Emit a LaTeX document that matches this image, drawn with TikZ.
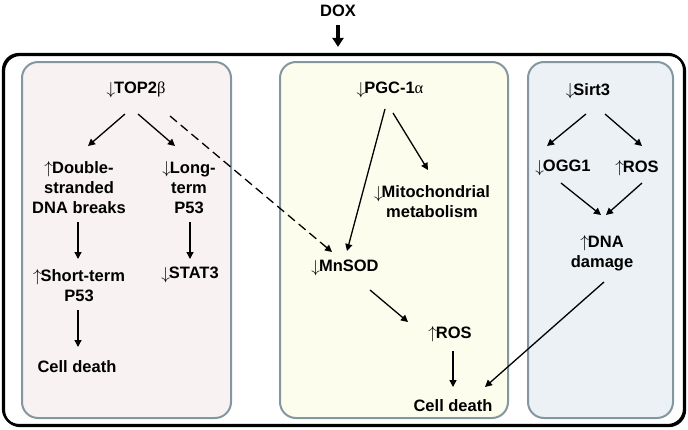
\documentclass[tikz,border=0pt]{standalone}
\usepackage{fontspec}
\setmainfont{Liberation Sans}
\newfontfamily\grk{Liberation Serif}
\usetikzlibrary{arrows.meta,calc}
\definecolor{pinkbg}{HTML}{F8F2F2}
\definecolor{yellowbg}{HTML}{FDFDEE}
\definecolor{bluebg}{HTML}{EBF1F4}
\definecolor{panelline}{HTML}{8497A0}
\newcommand{\dn}{\raisebox{-0.5pt}{$\mathsurround=0pt\downarrow$}\kern-1pt}
\newcommand{\upa}{\raisebox{0.5pt}{$\mathsurround=0pt\uparrow$}\kern-1pt}
\begin{document}
\begin{tikzpicture}[x=1pt,y=-1pt,
  lbl/.style={font=\fontsize{16.5}{20}\selectfont\bfseries, align=center, inner sep=0pt},
  panel/.style={draw=panelline, line width=2pt, rounded corners=16pt, inner sep=0pt},
  outerbox/.style={draw=black, line width=2.2pt, rounded corners=16pt, minimum width=681pt, minimum height=371pt, inner sep=0pt},
  arr/.style={line width=1.3pt, -{Triangle[length=7pt,width=7pt]}},
  darr/.style={arr, dash pattern=on 9pt off 5pt},
  bigarr/.style={line width=3.5pt, -{Triangle[length=9pt,width=11pt]}}
]
\useasboundingbox (0,0) rectangle (688,429);
% outer box with slight shadow
\node[outerbox] (outershadow) at (344.5,240.5) {};
\node[outerbox] (outer) at (343.5,239.5) {};
% panels
\node[panel, fill=pinkbg, minimum width=209pt, minimum height=356pt] (pleft) at (126.5,240) {};
\node[panel, fill=yellowbg, minimum width=228pt, minimum height=356pt] (pmid) at (394,240) {};
\node[panel, fill=bluebg, minimum width=145pt, minimum height=356pt] (pright) at (600.5,240) {};
% DOX
\node[lbl] (dox) at (338,11) {DOX};
\draw[bigarr] ($(dox)+(0,14)$) -- ($(dox |- outer.north)+(0,-6)$);
% left panel
\node[lbl] (top) at (136,90) {\dn TOP2{\grk\mdseries β}};
\node[lbl] (dsb) at (79,187.5) {\upa Double-\\stranded\\DNA breaks};
\node[lbl] (lt) at (189,187.5) {\dn Long-\\term\\P53};
\node[lbl] (stp) at (79,285.5) {\upa Short-term\\P53};
\node[lbl] (stat) at (190,275) {\dn STAT3};
\node[lbl] (cd1) at (77,367) {Cell death};
% middle panel
\node[lbl] (pgc) at (390,90) {\dn PGC-1{\grk\mdseries α}};
\node[lbl] (mito) at (432,202) {\dn Mitochondrial\\metabolism};
\node[lbl] (mn) at (345,268) {\dn MnSOD};
\node[lbl] (ros1) at (450,334) {\upa ROS};
\node[lbl] (cd2) at (453,406) {Cell death};
% right panel
\node[lbl] (sirt) at (588,91) {\dn Sirt3};
\node[lbl] (ogg) at (563,168) {\dn OGG1};
\node[lbl] (ros2) at (637,168) {\upa ROS};
\node[lbl] (dna) at (602,253) {\upa DNA\\damage};
% connectors
\draw[arr] ($(top)+(-11,24)$) -- ($(dsb)+(9,-41.5)$);
\draw[arr] ($(top)+(2,24)$) -- ($(lt)+(-14,-41.5)$);
\draw[darr] ($(top)+(34,26)$) -- ($(mn)+(-13,-16)$);
\draw[arr] ($(dsb)+(-1,34.5)$) -- ($(stp)+(-1,-26.5)$);
\draw[arr] ($(lt)+(1,34.5)$) -- ($(stat)+(0,-16)$);
\draw[arr] ($(stp)+(-1,24.5)$) -- ($(cd1)+(1,-20)$);
\draw[arr] ($(pgc)+(-5,19)$) -- ($(mn)+(2,-17)$);
\draw[arr] ($(pgc)+(3,23)$) -- ($(mito)+(-4,-32)$);
\draw[arr] ($(mn)+(25,22)$) -- ($(ros1)+(-42,-12)$);
\draw[arr] ($(ros1)+(3,17)$) -- ($(cd2)+(0,-19)$);
\draw[arr] ($(dna)+(2,29)$) -- ($(cd2)+(32,-19)$);
\draw[arr] ($(sirt)+(-2,23)$) -- ($(ogg)+(-16,-22)$);
\draw[arr] ($(sirt)+(17,23)$) -- ($(ros2)+(5,-22)$);
\draw[arr] ($(ogg)+(-2,15)$) -- ($(dna)+(-1,-38)$);
\draw[arr] ($(ros2)+(5,15)$) -- ($(dna)+(4,-38)$);
\end{tikzpicture}
\end{document}
